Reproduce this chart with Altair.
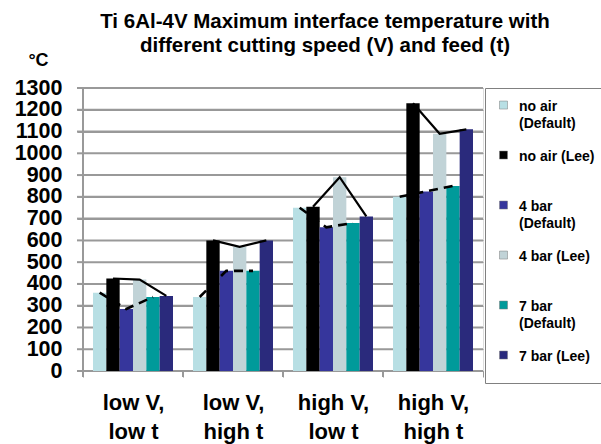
import altair as alt
import pandas as pd

FONT = "Liberation Sans"
GRID = "#999999"

# Cutting conditions (x categories)
groups = ["low V, low t", "low V, high t", "high V, low t", "high V, high t"]

# Series: cooling condition and model
series = ["no air (Default)", "no air (Lee)", "4 bar (Default)",
          "4 bar (Lee)", "7 bar (Default)", "7 bar  (Lee)"]
series_kind = ["Default", "Lee", "Default", "Lee", "Default", "Lee"]
series_colors = ["#b8dfe4", "#000000", "#36369c", "#c1d3d7", "#009a9a", "#2a2a7c"]

# Maximum interface temperature (°C) per cutting condition
no_air_default = [360, 340, 750, 800]
no_air_lee = [425, 600, 755, 1230]
bar4_default = [285, 460, 660, 825]
bar4_lee = [420, 570, 890, 1090]
bar7_default = [340, 460, 680, 850]
bar7_lee = [345, 600, 710, 1110]

y_ticks = [0, 100, 200, 300, 400, 500, 600, 700, 800, 900, 1000, 1100, 1200, 1300]

values = [no_air_default, no_air_lee, bar4_default, bar4_lee, bar7_default, bar7_lee]
rows = []
for si, (name, kind, vals) in enumerate(zip(series, series_kind, values)):
    for g, v in zip(groups, vals):
        rows.append({"group": g, "series": name, "kind": kind, "idx": si, "value": v})
df = pd.DataFrame(rows)
grid_df = pd.DataFrame({"value": y_ticks})
span_df = pd.DataFrame({"value": [y_ticks[0]], "top": [y_ticks[-1]]})
group_df = pd.DataFrame({"group": groups})

# Legend labels wrapped onto two lines
legend_lines = {
    "no air (Default)": ["no air", "(Default)"],
    "no air (Lee)": ["no air (Lee)", ""],
    "4 bar (Default)": ["4 bar", "(Default)"],
    "4 bar (Lee)": ["4 bar (Lee)", ""],
    "7 bar (Default)": ["7 bar", "(Default)"],
    "7 bar  (Lee)": ["7 bar  (Lee)", ""],
}
legend_expr = "{" + ", ".join(
    "'%s': ['%s', '%s']" % (k, a, b) for k, (a, b) in legend_lines.items()
) + "}[datum.label]"

x_scale = alt.Scale(paddingInner=0, paddingOuter=0)
x_axis = alt.Axis(
    title=None, grid=False, tickBand="extent", labelAngle=0,
    labelExpr="datum.label ? [split(datum.label, ', ')[0] + ',', split(datum.label, ', ')[1]] : ''",
    labelFont=FONT, labelFontSize=22, labelFontWeight="bold", labelColor="black",
    labelLineHeight=29, labelPadding=15,
    domainColor=GRID, tickColor=GRID, tickSize=6,
)
x_enc = alt.X("group:N", sort=groups, scale=x_scale, axis=x_axis)
xo_enc = alt.XOffset("series:N", sort=series,
                     scale=alt.Scale(paddingInner=0, paddingOuter=0.75))
y_axis = alt.Axis(
    values=y_ticks, format="d", title="°C", titleAngle=0, titleX=-45, titleY=-28,
    titleAlign="center", titleBaseline="middle",
    titleFont=FONT, titleFontSize=18, titleFontWeight="bold", titleColor="black",
    labelFont=FONT, labelFontSize=21.5, labelFontWeight="bold", labelColor="black",
    labelPadding=15, labelOverlap=False, labelFlush=False,
    grid=True, gridColor=GRID, gridWidth=1,
    domainColor=GRID, tickColor=GRID, tickSize=6,
)
y_scale = alt.Scale(domain=[0, 1300], nice=False)
y_enc = alt.Y("value:Q", scale=y_scale, axis=y_axis)

# Horizontal gridlines across the plot
gridlines = alt.Chart(grid_df).mark_tick(
    orient="horizontal", size=400, thickness=2, color=GRID, opacity=1
).encode(y=y_enc)

# Short tick marks left of the value axis
y_tick_marks = alt.Chart(grid_df).mark_tick(
    orient="horizontal", size=6, thickness=2, color=GRID, opacity=1
).encode(y=y_enc, x=alt.value(-3))

# Value axis line
y_domain = alt.Chart(span_df).mark_rect(color=GRID, opacity=1).encode(
    y=y_enc, y2="top", x=alt.value(-1), x2=alt.value(1)
)

# Tick marks between cutting conditions
x_tick_marks = alt.Chart(group_df).mark_tick(
    orient="vertical", size=6, thickness=2, color=GRID, opacity=1
).encode(
    x=alt.X("group:N", sort=groups, scale=x_scale, axis=x_axis, bandPosition=0),
    y=alt.value(286),
)

bars = alt.Chart(df).mark_bar().encode(
    x=x_enc, xOffset=xo_enc, y=y_enc,
    color=alt.Color(
        "series:N", sort=series, title="\u00a0",
        scale=alt.Scale(domain=series, range=series_colors),
        legend=alt.Legend(
            orient="none", legendX=402, legendY=0, direction="vertical",
            titleOrient="right", titleOpacity=0, titlePadding=30,
            labelExpr=legend_expr, labelFont=FONT, labelFontSize=14,
            labelFontWeight="bold", labelColor="black", labelBaseline="alphabetic",
            labelOffset=7, labelLimit=300,
            symbolType="M-0.5,-1.18H0.5V-0.18H-0.5Z", symbolSize=256,
            symbolOffset=8, symbolStrokeColor="#7a7a7a", symbolStrokeWidth=0.5,
            clipHeight=41, rowPadding=9, padding=2, gridAlign="all",
            strokeColor="#808080",
        ),
    ),
)

lee_line = alt.Chart(df).transform_filter(alt.datum.kind == "Lee").mark_line(
    color="black", strokeWidth=2.2
).encode(x=x_enc, xOffset=xo_enc, y=y_enc, detail="group:N", order="idx:Q")

default_line = alt.Chart(df).transform_filter(alt.datum.kind == "Default").mark_line(
    color="black", strokeWidth=2.6, strokeDash=[9, 6]
).encode(x=x_enc, xOffset=xo_enc, y=y_enc, detail="group:N", order="idx:Q")

chart = alt.layer(
    gridlines, y_tick_marks, y_domain, x_tick_marks, bars, default_line, lee_line
).properties(
    width=400,
    height=283,
    autosize=alt.AutoSizeParams(type="none"),
    padding={"left": 83, "top": 88, "right": 118, "bottom": 73},
    title=alt.TitleParams(
        text=["Ti 6Al-4V Maximum interface temperature with",
              "different cutting speed (V) and feed (t)"],
        font=FONT, fontSize=20.5, fontWeight="bold", color="black",
        anchor="middle", dx=42, offset=-5, lineHeight=23.5,
    ),
).configure_view(stroke=None).configure(
    background="white", style={"guide-label": {"lineHeight": 17.5}}
)

chart.save("out.html", embed_options={"renderer": "svg", "actions": False})
